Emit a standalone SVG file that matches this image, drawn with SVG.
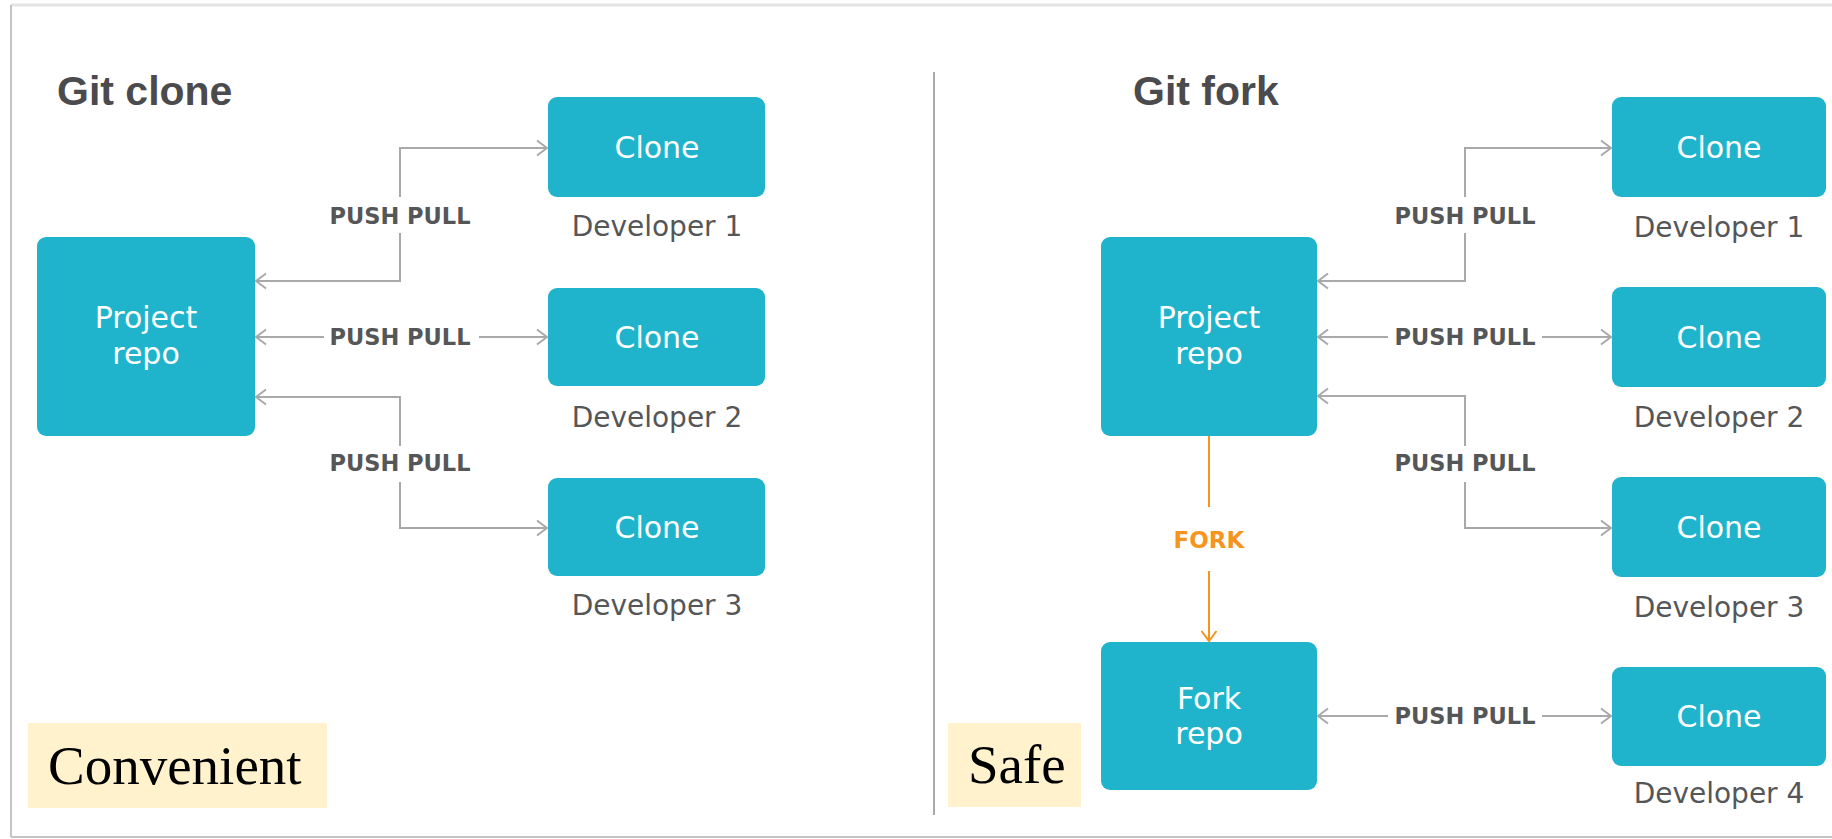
<svg xmlns="http://www.w3.org/2000/svg" width="1832" height="839" viewBox="0 0 1832 839">
<style>
.box{fill:#1fb4cc}
.wt{font-family:"DejaVu Sans",sans-serif;font-size:30px;fill:#ffffff;text-anchor:middle}
.dev{font-family:"DejaVu Sans",sans-serif;font-size:28px;fill:#555658;text-anchor:middle}
.pp{font-family:"DejaVu Sans",sans-serif;font-weight:bold;font-size:22.5px;fill:#555658;text-anchor:middle}
.title{font-family:"Liberation Sans",Arial,sans-serif;font-weight:bold;font-size:41px;fill:#4b4b4d}
.conn{fill:none;stroke:#a9a9ab;stroke-width:2}
.fork{fill:none;stroke:#f7941d;stroke-width:2}
.note{fill:#fff2cc}
.notet{font-family:"Liberation Serif","Times New Roman",serif;font-size:55px;fill:#000000}
</style>
<defs>
<marker id="ag" markerUnits="userSpaceOnUse" markerWidth="16" markerHeight="20" refX="12" refY="9" orient="auto-start-reverse">
<path d="M2,1.5 L12,9 L2,16.5" fill="none" stroke="#a9a9ab" stroke-width="2"/>
</marker>
<marker id="ao" markerUnits="userSpaceOnUse" markerWidth="16" markerHeight="20" refX="12" refY="9" orient="auto">
<path d="M2,1.5 L12,9 L2,16.5" fill="none" stroke="#f7941d" stroke-width="2"/>
</marker>
</defs>
<rect x="0" y="0" width="1832" height="839" fill="#ffffff"/>
<g id="frame">
<line x1="11" y1="5" x2="1832" y2="5" stroke="#e4e4e4" stroke-width="3"/>
<line x1="11" y1="5" x2="11" y2="837" stroke="#c4c4c4" stroke-width="2"/>
<line x1="11" y1="837" x2="1832" y2="837" stroke="#c4c4c4" stroke-width="2"/>
<line x1="934" y1="72" x2="934" y2="815" stroke="#a9a9ab" stroke-width="2"/>
</g>
<g id="titles">
<text class="title" x="57" y="105">Git clone</text>
<text class="title" x="1133" y="105">Git fork</text>
</g>
<g id="connectors">
<path class="conn" d="M256,281 H400 V233" marker-start="url(#ag)"/>
<path class="conn" d="M400,197 V148 H547" marker-end="url(#ag)"/>
<text class="pp" x="400" y="224">PUSH PULL</text>
<line class="conn" x1="256" y1="337" x2="324" y2="337" marker-start="url(#ag)"/>
<line class="conn" x1="479" y1="337" x2="547" y2="337" marker-end="url(#ag)"/>
<text class="pp" x="400" y="345">PUSH PULL</text>
<path class="conn" d="M256,397 H400 V446" marker-start="url(#ag)"/>
<path class="conn" d="M400,482 V528 H547" marker-end="url(#ag)"/>
<text class="pp" x="400" y="471">PUSH PULL</text>
<path class="conn" d="M1318,281 H1465 V233" marker-start="url(#ag)"/>
<path class="conn" d="M1465,197 V148 H1611" marker-end="url(#ag)"/>
<text class="pp" x="1465" y="224">PUSH PULL</text>
<line class="conn" x1="1318" y1="337" x2="1388" y2="337" marker-start="url(#ag)"/>
<line class="conn" x1="1542" y1="337" x2="1611" y2="337" marker-end="url(#ag)"/>
<text class="pp" x="1465" y="345">PUSH PULL</text>
<path class="conn" d="M1318,396 H1465 V446" marker-start="url(#ag)"/>
<path class="conn" d="M1465,482 V528 H1611" marker-end="url(#ag)"/>
<text class="pp" x="1465" y="471">PUSH PULL</text>
<line class="conn" x1="1318" y1="716" x2="1388" y2="716" marker-start="url(#ag)"/>
<line class="conn" x1="1542" y1="716" x2="1611" y2="716" marker-end="url(#ag)"/>
<text class="pp" x="1465" y="724">PUSH PULL</text>
<line class="fork" x1="1209" y1="436" x2="1209" y2="507"/>
<line class="fork" x1="1209" y1="571" x2="1209" y2="641" marker-end="url(#ao)"/>
<text x="1209" y="548" font-family="DejaVu Sans, sans-serif" font-weight="bold" font-size="23px" fill="#f7941d" text-anchor="middle">FORK</text>
</g>
<g id="project-repo-left">
<rect class="box" x="37" y="237" width="218" height="199" rx="9"/>
<text class="wt" x="146" y="328">Project</text>
<text class="wt" x="146" y="364">repo</text>
</g>
<g id="clone-l1">
<rect class="box" x="548" y="97" width="217" height="100" rx="9"/>
<text class="wt" x="657" y="158">Clone</text>
<text class="dev" x="657" y="236">Developer 1</text>
</g>
<g id="clone-l2">
<rect class="box" x="548" y="288" width="217" height="98" rx="9"/>
<text class="wt" x="657" y="348">Clone</text>
<text class="dev" x="657" y="427">Developer 2</text>
</g>
<g id="clone-l3">
<rect class="box" x="548" y="478" width="217" height="98" rx="9"/>
<text class="wt" x="657" y="538">Clone</text>
<text class="dev" x="657" y="615">Developer 3</text>
</g>
<g id="project-repo-right">
<rect class="box" x="1101" y="237" width="216" height="199" rx="9"/>
<text class="wt" x="1209" y="328">Project</text>
<text class="wt" x="1209" y="364">repo</text>
</g>
<g id="fork-repo">
<rect class="box" x="1101" y="642" width="216" height="148" rx="9"/>
<text class="wt" x="1209" y="709">Fork</text>
<text class="wt" x="1209" y="744">repo</text>
</g>
<g id="clone-r1">
<rect class="box" x="1612" y="97" width="214" height="100" rx="9"/>
<text class="wt" x="1719" y="158">Clone</text>
<text class="dev" x="1719" y="237">Developer 1</text>
</g>
<g id="clone-r2">
<rect class="box" x="1612" y="287" width="214" height="100" rx="9"/>
<text class="wt" x="1719" y="348">Clone</text>
<text class="dev" x="1719" y="427">Developer 2</text>
</g>
<g id="clone-r3">
<rect class="box" x="1612" y="477" width="214" height="100" rx="9"/>
<text class="wt" x="1719" y="538">Clone</text>
<text class="dev" x="1719" y="617">Developer 3</text>
</g>
<g id="clone-r4">
<rect class="box" x="1612" y="667" width="214" height="99" rx="9"/>
<text class="wt" x="1719" y="727">Clone</text>
<text class="dev" x="1719" y="803">Developer 4</text>
</g>
<g id="note-convenient">
<rect class="note" x="28" y="723" width="299" height="85"/>
<text class="notet" x="48" y="784">Convenient</text>
</g>
<g id="note-safe">
<rect class="note" x="948" y="723" width="133" height="84"/>
<text class="notet" x="968" y="783">Safe</text>
</g>
</svg>
